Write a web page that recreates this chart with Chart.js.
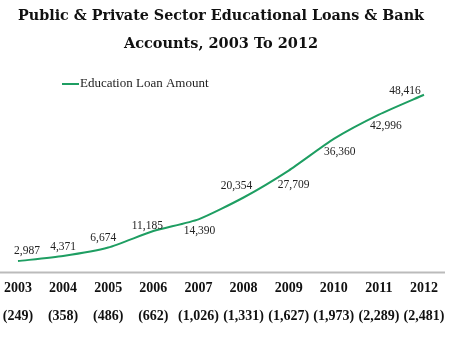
<!DOCTYPE html>
<html>
<head>
<meta charset="utf-8">
<script src="https://cdn.jsdelivr.net/npm/chart.js@4"></script>
<style>
  html, body { margin: 0; padding: 0; background: #fff; }
  #wrap { width: 451px; height: 338px; }
</style>
</head>
<body>
<div id="wrap"><canvas id="loanChart"></canvas></div>
<script>
// Données du graphique
const years = ['2003', '2004', '2005', '2006', '2007', '2008', '2009', '2010', '2011', '2012'];
const accounts = ['(249)', '(358)', '(486)', '(662)', '(1,026)', '(1,331)', '(1,627)', '(1,973)', '(2,289)', '(2,481)'];
const loanAmount = [2987, 4371, 6674, 11185, 14390, 20354, 27709, 36360, 42996, 48416];
const seriesName = 'Education Loan Amount';

const serif = "'DejaVu Serif', 'Liberation Serif', serif";
const serifSmall = "'Liberation Serif', serif";
const green = '#1e9e62';

// décalages des étiquettes par point (dx, dy)
const labelOffsets = [[9, -10], [0, -9], [-5, -10], [-6, -5], [1, 12], [-7, -12], [5, 14], [6, 13], [7, 11], [-19, -4]];

const fmt = v => v.toLocaleString('en-US');

const pointLabels = {
    id: 'pointLabels',
    afterDatasetsDraw(chart) {
        const ctx = chart.ctx;
        const meta = chart.getDatasetMeta(0);
        ctx.save();
        ctx.font = '11.5px ' + serifSmall;
        ctx.fillStyle = '#222';
        ctx.textAlign = 'center';
        ctx.textBaseline = 'middle';
        meta.data.forEach((pt, i) => {
            const off = labelOffsets[i];
            ctx.fillText(fmt(loanAmount[i]), pt.x + off[0], pt.y + off[1]);
        });
        ctx.restore();
    }
};

// ligne d'axe grise + légende manuelle
const extras = {
    id: 'extras',
    afterDraw(chart) {
        const ctx = chart.ctx;
        const area = chart.chartArea;
        ctx.save();
        ctx.strokeStyle = '#bbb';
        ctx.lineWidth = 2;
        ctx.beginPath();
        ctx.moveTo(0, area.bottom + 0.5);
        ctx.lineTo(445, area.bottom + 0.5);
        ctx.stroke();

        ctx.strokeStyle = green;
        ctx.lineWidth = 2;
        ctx.beginPath();
        ctx.moveTo(62, 84);
        ctx.lineTo(79, 84);
        ctx.stroke();
        ctx.font = '13px ' + serifSmall;
        ctx.fillStyle = '#222';
        ctx.textBaseline = 'middle';
        ctx.fillText(seriesName, 80, 84);
        ctx.restore();
    }
};

new Chart(document.getElementById('loanChart'), {
    type: 'line',
    data: {
        labels: years.map((y, i) => [y, accounts[i]]),
        datasets: [{
            label: seriesName,
            data: loanAmount,
            borderColor: green,
            borderWidth: 2,
            pointRadius: 0,
            tension: 0.2,
            fill: false
        }]
    },
    options: {
        responsive: true,
        maintainAspectRatio: false,
        animation: false,
        layout: { padding: { left: 18, right: 27, top: 0, bottom: 14 } },
        plugins: {
            legend: { display: false },
            tooltip: { enabled: false },
            title: {
                display: true,
                text: ['Public & Private Sector Educational Loans & Bank', 'Accounts, 2003 To 2012'],
                font: { family: serif, size: 14.5, weight: 'bold', lineHeight: 1.92 },
                color: '#111',
                padding: { top: 2, bottom: 13 }
            }
        },
        scales: {
            x: {
                offset: false,
                grid: { display: false },
                border: { display: false },
                ticks: {
                    autoSkip: false,
                    maxRotation: 0,
                    padding: -6,
                    color: '#111',
                    font: { family: serifSmall, size: 14, weight: 'bold', lineHeight: 2.0 }
                }
            },
            y: {
                display: false,
                min: 0,
                max: 55000
            }
        }
    },
    plugins: [pointLabels, extras]
});
</script>
</body>
</html>
